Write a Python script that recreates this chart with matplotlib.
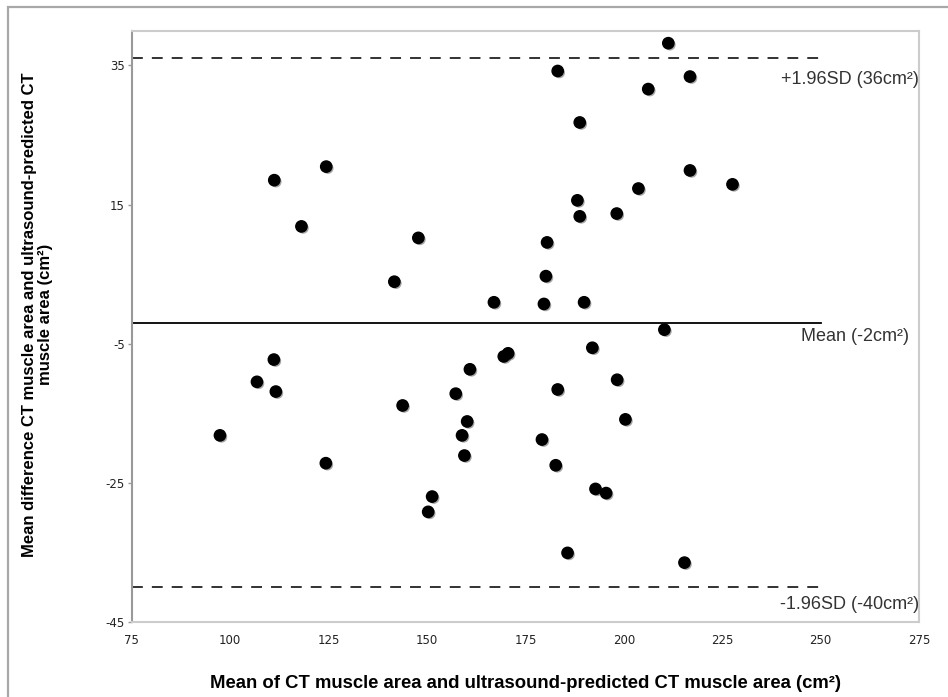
import matplotlib.pyplot as plt
import matplotlib.patheffects as pe
from matplotlib.patches import Rectangle

plt.rcParams['axes.unicode_minus'] = False

# Bland-Altman data
mean_area = [111.2, 124.4, 118.1, 147.8, 141.7,
             211.3, 183.2, 216.8, 206.2, 188.8, 216.8, 227.6, 203.7, 188.2,
             188.8, 198.2, 180.5, 180.2, 167.0, 179.7, 189.9, 210.3, 192.0,
             111.1, 106.8, 111.6, 97.4, 124.3, 143.8, 160.9, 157.3, 160.2,
             158.9, 159.5, 151.3, 150.3,
             169.5, 170.6, 198.3, 183.2, 200.4, 179.2, 182.7, 192.8, 195.5,
             185.7, 215.4]
diff_area = [18.5, 20.45, 11.85, 10.2, 3.9,
             38.2, 34.2, 33.4, 31.6, 26.8, 19.9, 17.9, 17.3, 15.6,
             13.3, 13.7, 9.55, 4.7, 0.94, 0.7, 0.94, -3.0, -5.6,
             -7.3, -10.5, -11.9, -18.2, -22.2, -13.9, -8.7, -12.2, -16.2,
             -18.2, -21.1, -27.0, -29.2,
             -6.85, -6.4, -10.2, -11.6, -15.9, -18.8, -22.5, -25.9, -26.5,
             -35.1, -36.5]

bias = -2
upper_loa = 36
lower_loa = -40
line_x = [75, 250]

x_ticks = [75, 100, 125, 150, 175, 200, 225, 250, 275]
y_ticks = [-45, -25, -5, 15, 35]

fig = plt.figure(figsize=(9.48, 6.97), dpi=100)
ax = fig.add_axes([0.139, 0.108, 0.8305, 0.848])

# outer grey frame (clipped at right/bottom like the source)
fig.patches.append(Rectangle((8 / 948, -0.1), 1.1, 690 / 697 + 0.1,
                             transform=fig.transFigure, fill=False,
                             edgecolor='#a8a8a8', linewidth=1.6))

ax.plot(line_x, [upper_loa, upper_loa], color='#222222', linewidth=1.3,
        dashes=(6, 5))
ax.plot(line_x, [lower_loa, lower_loa], color='#222222', linewidth=1.3,
        dashes=(6, 5))
ax.plot(line_x, [bias, bias], color='black', linewidth=1.3)

ax.scatter(mean_area, diff_area, s=66, color='black', zorder=3,
           path_effects=[pe.SimplePatchShadow(offset=(1.2, -1.2), alpha=0.35),
                         pe.Normal()])

ax.text(275, upper_loa - 3.0, '+1.96SD (36cm²)', ha='right', va='center',
        fontsize=13, family='Liberation Sans', color='#333333')
ax.text(272.5, bias - 2.0, 'Mean (-2cm²)', ha='right', va='center',
        fontsize=13, family='Liberation Sans', color='#333333')
ax.text(275, lower_loa - 2.5, '-1.96SD (-40cm²)', ha='right', va='center',
        fontsize=13, family='Liberation Sans', color='#333333')

ax.set_xlim(75, 275)
ax.set_ylim(-45, 40)
ax.set_xticks(x_ticks)
ax.set_yticks(y_ticks)
ax.tick_params(axis='x', length=0, pad=9, labelsize=8.5, colors='#222222')
ax.tick_params(axis='y', length=3, width=1, pad=2, labelsize=8.5,
               colors='#222222')
ax.tick_params(axis='y', color='#999999')

for side in ['top', 'right', 'bottom']:
    ax.spines[side].set_color('#cccccc')
    ax.spines[side].set_linewidth(1.5)
ax.spines['left'].set_color('#999999')
ax.spines['left'].set_linewidth(1.5)

ax.set_xlabel('Mean of CT muscle area and ultrasound-predicted CT muscle area (cm²)',
              fontsize=13.3, fontweight='bold', family='Liberation Sans')
ax.xaxis.set_label_coords(0.5, -0.09)
ax.set_ylabel('Mean difference CT muscle area and ultrasound-predicted CT\n'
              'muscle area (cm²)', fontsize=12, fontweight='bold',
              family='Liberation Sans', linespacing=1.1)
ax.yaxis.set_label_coords(-0.100, 0.52)

plt.savefig('out.png', dpi=100)
